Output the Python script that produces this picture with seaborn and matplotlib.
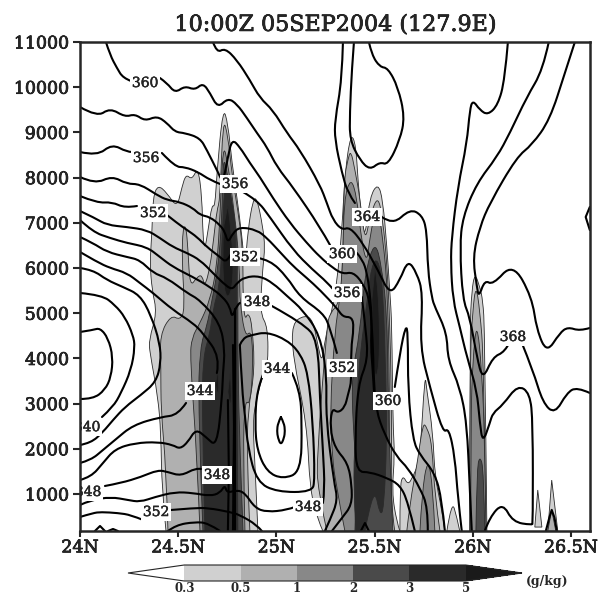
import matplotlib
matplotlib.use('Agg')
import matplotlib.pyplot as plt
import matplotlib.patheffects as pe
from matplotlib.cm import ScalarMappable
from matplotlib.colors import BoundaryNorm, ListedColormap
from matplotlib.patches import PathPatch
from matplotlib.path import Path
import seaborn as sns

# --- theta-e isolines (lat in deg N, height in m) ---
c360a_lat = [24.132, 24.153, 24.188, 24.219, 24.260]
c360a_z = [11000, 10713, 10425, 10204, 10137]
c360b_lat = [24.407, 24.443, 24.484, 24.534, 24.585, 24.626, 24.662, 24.702, 24.753, 24.799, 24.850, 24.901, 24.952, 25.003, 25.084, 25.222, 25.273]
c360b_z = [10204, 10093, 9872, 10027, 9938, 10093, 9872, 9540, 9761, 9628, 9319, 8987, 8677, 8235, 7793, 6908, 6510]
c360c_lat = [25.410, 25.440, 25.461, 25.476, 25.486, 25.481, 25.491, 25.502]
c360c_z = [6333, 6178, 5890, 5448, 4850, 4254, 3745, 2904]
c360d_lat = [25.603, 25.629, 25.659, 25.670, 25.670, 25.695, 25.731, 25.807, 25.843, 25.858]
c360d_z = [3369, 4121, 4740, 4563, 3302, 2196, 1864, 1466, 869, 183]
c362_lat = [24.677, 24.697, 24.738, 24.799, 24.865, 24.916, 24.982, 25.054, 25.120, 25.222, 25.257, 25.288, 25.334, 25.374, 25.440, 25.517, 25.578, 25.629, 25.670, 25.715, 25.746, 25.731, 25.782, 25.848, 25.878, 25.909, 25.924, 25.944]
c362_z = [11000, 10757, 10867, 10602, 10159, 9761, 9496, 8987, 8611, 7837, 7439, 7063, 6841, 6908, 6554, 5957, 5404, 5735, 6178, 5890, 5448, 4254, 3368, 2351, 2462, 1820, 935, 183]
c364a_lat = [25.339, 25.334, 25.298, 25.298, 25.334, 25.364, 25.400]
c364a_z = [11000, 10159, 9275, 8832, 8102, 7660, 7439]
c364b_lat = [25.537, 25.593, 25.680, 25.741, 25.766, 25.771, 25.792, 25.807, 25.868, 25.873, 25.934, 25.970, 25.985, 25.995]
c364b_z = [7129, 6952, 7306, 7173, 6841, 5957, 5337, 5138, 4563, 3966, 3368, 2572, 1090, 183]
top_lat = [25.395, 25.384, 25.374, 25.374, 25.425, 25.476, 25.527, 25.568, 25.629, 25.654, 25.619, 25.568, 25.527, 25.486, 25.471]
top_z = [11000, 10381, 9429, 8832, 8390, 8169, 8346, 8279, 8832, 9341, 10005, 10425, 10447, 10713, 11000]
r1_lat = [26.179, 26.163, 26.128, 26.077, 26.036, 26.000, 25.985, 25.970, 25.924, 25.893, 25.888, 25.899, 25.934, 25.970, 26.021, 26.036, 26.051, 26.087, 26.102, 26.153, 26.229, 26.291, 26.306, 26.306, 26.301, 26.204, 26.153, 26.087, 26.061]
r1_z = [11000, 10159, 9606, 9385, 9496, 9717, 9496, 8766, 7793, 6687, 6111, 5293, 4696, 4032, 3302, 2572, 2130, 2572, 2793, 2970, 3413, 3236, 2572, 360, 316, 382, 803, 493, 183]
r2a_lat = [26.387, 26.357, 26.275, 26.189, 26.123, 26.021, 25.949, 25.934, 25.949, 25.985, 26.021, 26.051, 26.102, 26.163, 26.189]
r2a_z = [11000, 10381, 9783, 8987, 8456, 7881, 7129, 6465, 5293, 4917, 4032, 3523, 4032, 4143, 4364]
r2b_lat = [26.250, 26.306, 26.357, 26.418, 26.479, 26.530, 26.596]
r2b_z = [4342, 3744, 3015, 2771, 3236, 3369, 3236]
r3_lat = [26.520, 26.469, 26.392, 26.301, 26.224, 26.087, 26.036, 26.000, 26.021, 26.031, 26.061, 26.102, 26.204, 26.301, 26.326, 26.377, 26.443, 26.484, 26.545, 26.596]
r3_z = [11000, 10314, 9275, 8722, 8456, 7439, 6908, 6244, 5581, 5359, 5735, 5625, 6111, 5359, 4629, 4121, 4563, 4696, 4607, 4674]
c358_lat = [24.000, 24.087, 24.153, 24.229, 24.280, 24.331, 24.392, 24.443, 24.484, 24.534, 24.611, 24.646, 24.702, 24.728, 24.753, 24.774, 24.814, 24.865, 24.916, 24.982, 25.069, 25.155, 25.222, 25.288, 25.339, 25.390, 25.440, 25.476, 25.491, 25.496, 25.507, 25.552, 25.613, 25.670, 25.731, 25.771, 25.771]
c358_z = [9562, 9341, 9540, 9341, 9407, 9252, 9363, 9208, 9009, 8987, 8876, 8611, 8124, 7881, 8456, 8854, 8677, 8323, 8014, 7549, 6996, 6554, 6244, 6001, 5868, 5912, 5669, 5293, 4408, 3523, 2860, 2307, 1820, 1577, 1134, 714, 183]
c356a_lat = [24.000, 24.087, 24.163, 24.239, 24.265]
c356a_z = [8567, 8478, 8744, 8567, 8567]
c356b_lat = [24.417, 24.484, 24.534, 24.601, 24.662, 24.713]
c356b_z = [8545, 8235, 8235, 8124, 7947, 7859]
c356c_lat = [24.830, 24.901, 24.967, 25.084, 25.186, 25.257, 25.288]
c356c_z = [7682, 7505, 7129, 6399, 5957, 5691, 5536]
c356d_lat = [25.435, 25.456, 25.466, 25.415, 25.400, 25.410, 25.476, 25.563, 25.629, 25.670, 25.705]
c356d_z = [5359, 4629, 3966, 3413, 2152, 1488, 1488, 1356, 1201, 825, 183]
c354_lat = [24.000, 24.076, 24.163, 24.239, 24.305, 24.392, 24.443, 24.509, 24.575, 24.611, 24.662, 24.713, 24.738, 24.753, 24.779, 24.814, 24.901, 24.952, 25.018, 25.084, 25.155, 25.222, 25.308, 25.339, 25.384, 25.395, 25.379, 25.384, 25.364, 25.349, 25.313, 25.283, 25.273, 25.298, 25.364, 25.384, 25.384, 25.334, 25.283]
c354_z = [8014, 7859, 8036, 7859, 7859, 7616, 7505, 7461, 7328, 7173, 7129, 6952, 6797, 6554, 6775, 6908, 6841, 6664, 6355, 6045, 5780, 5514, 5116, 4917, 4917, 4696, 4187, 3523, 3191, 2925, 2793, 2904, 2462, 2019, 1687, 1201, 758, 471, 183]
c352a_lat = [24.000, 24.087, 24.163, 24.229, 24.290]
c352a_z = [7593, 7439, 7461, 7328, 7372]
c352b_lat = [24.443, 24.494, 24.545, 24.596, 24.646, 24.713, 24.748, 24.774]
c352b_z = [7173, 6996, 6841, 6687, 6465, 6244, 6111, 6355]
c352c_lat = [24.906, 24.967, 25.054, 25.120, 25.237, 25.273, 25.308]
c352c_z = [6222, 6178, 5803, 5360, 5005, 4696, 4121]
c350_lat = [24.000, 24.076, 24.137, 24.239, 24.341, 24.407, 24.473, 24.545, 24.611, 24.677, 24.728, 24.774, 24.799, 24.840, 24.916, 24.982, 25.054, 25.135, 25.222, 25.257, 25.252, 25.293, 25.313, 25.273, 25.247]
c350_z = [7262, 7107, 6952, 6908, 6841, 6664, 6465, 6333, 6178, 5890, 5669, 5514, 5669, 5802, 5824, 5669, 5382, 5072, 4519, 3634, 2683, 1267, 869, 427, 183]
c348a_lat = [24.000, 24.066, 24.153, 24.239, 24.341, 24.407, 24.473, 24.575, 24.662, 24.728, 24.764, 24.774, 24.799, 24.814]
c348a_z = [7062, 6797, 6664, 6554, 6465, 6244, 6023, 5802, 5581, 5359, 5138, 4895, 5182, 5227]
c348b_lat = [24.977, 25.135, 25.211, 25.222, 25.237, 25.247, 25.237]
c348b_z = [5160, 4783, 4408, 3081, 1975, 1090, 803]
c346_lat = [24.000, 24.066, 24.137, 24.239, 24.305, 24.372, 24.443, 24.545, 24.611, 24.713, 24.738, 24.728, 24.723, 24.697, 24.641, 24.590, 24.550, 24.509, 24.473, 24.397, 24.280, 24.178, 24.117, 24.056, 24.000]
c346_z = [6687, 6554, 6355, 6244, 6178, 5890, 5780, 5448, 5293, 4784, 4187, 3700, 3125, 2041, 2262, 2440, 2152, 1997, 2086, 2152, 2130, 1997, 1687, 1378, 1311]
c344a_lat = [24.000, 24.087, 24.153, 24.239, 24.305, 24.372, 24.473, 24.575, 24.626, 24.713, 24.697]
c344a_z = [6355, 6134, 6001, 5890, 5669, 5448, 5072, 4784, 4563, 4032, 3678]
c344b_lat = [24.540, 24.499, 24.412, 24.270, 24.178, 24.117, 24.056, 24.000]
c344b_z = [3015, 2749, 2705, 2528, 2196, 1975, 1754, 1687]
c342_lat = [24.000, 24.066, 24.137, 24.219, 24.305, 24.361, 24.407, 24.412, 24.387, 24.310, 24.229, 24.168, 24.117, 24.056, 24.000]
c342_z = [6001, 5957, 5735, 5581, 5403, 4961, 4341, 3899, 3479, 3191, 2926, 2638, 2373, 2130, 2086]
c340_lat = [24.000, 24.112, 24.178, 24.229, 24.270, 24.280, 24.260, 24.209, 24.168, 24.112]
c340_z = [5448, 5403, 5182, 4917, 4519, 4253, 3744, 3236, 2926, 2705]
c338_lat = [24.000, 24.066, 24.102, 24.143, 24.168, 24.158, 24.127, 24.066, 24.000]
c338_z = [4585, 4629, 4674, 4452, 4032, 3590, 3302, 3103, 3103]
low348_lat = [24.127, 24.209, 24.310, 24.397, 24.448, 24.514, 24.590, 24.616]
low348_z = [1179, 1245, 1378, 1533, 1488, 1400, 1577, 1555]
low350_lat = [24.000, 24.056, 24.158, 24.244, 24.305, 24.382, 24.484, 24.575, 24.662, 24.713, 24.738, 24.748, 24.799, 24.840, 24.891, 24.952, 25.054, 25.094]
low350_z = [759, 869, 935, 869, 825, 935, 1046, 1024, 957, 1024, 1201, 1024, 1090, 1024, 692, 603, 648, 714]
low352a_lat = [24.000, 24.066, 24.107, 24.193, 24.260, 24.321]
low352a_z = [493, 581, 603, 581, 537, 427]
low352b_lat = [24.463, 24.585, 24.652, 24.764, 24.814, 24.901, 24.926]
low352b_z = [648, 692, 692, 603, 537, 316, 183]
low354_lat = [24.448, 24.489, 24.585, 24.652, 24.713]
low354_z = [183, 316, 382, 360, 183]
loop346_lat = [24.814, 24.825, 24.840, 24.855, 24.901, 25.003, 25.181, 25.196, 25.186, 25.161, 25.120, 25.054, 24.952, 24.875, 24.830, 24.814]
loop346_z = [4298, 3302, 2749, 2019, 1267, 1046, 1046, 1311, 2572, 3678, 4121, 4408, 4585, 4519, 4452, 4298]
loop344_lat = [25.079, 25.120, 25.130, 25.125, 25.033, 24.952, 24.901, 24.891, 24.901, 24.931]
loop344_z = [3678, 3302, 2572, 1488, 1333, 1488, 1975, 2572, 3302, 3634]
loop342_lat = [25.023, 25.039, 25.044, 25.039, 25.023, 25.008, 25.003, 25.008, 25.023]
loop342_z = [2705, 2572, 2395, 2240, 2085, 2240, 2395, 2572, 2705]

# short pieces, drawn straight
edge_lat = [26.596, 26.575, 26.596]
edge_z = [7350, 7129, 6841]
arc1_lat = [24.076, 24.102, 24.127]
arc1_z = [183, 294, 183]
arc2_lat = [24.143, 24.168, 24.193]
arc2_z = [183, 228, 183]
arc3_lat = [26.372, 26.390, 26.402, 26.416, 26.428]
arc3_z = [183, 480, 650, 480, 183]
arc4_lat = [25.430, 25.451, 25.471]
arc4_z = [183, 360, 183]
band1_lat = [24.779, 24.784, 24.779]
band1_z = [4298, 2500, 183]
band2_lat = [24.753, 24.758, 24.753]
band2_z = [3080, 1500, 183]
band3_lat = [24.789, 24.789]
band3_z = [5100, 183]

# --- cloud water regions, one outline per shading level ---
w03_lat = [24.906, 24.891, 24.881, 24.891, 24.931, 24.957, 24.957, 24.916, 24.931, 24.942, 24.931, 24.901, 24.881, 24.855, 24.840, 24.825, 24.799, 24.774, 24.753, 24.728, 24.697, 24.687, 24.672, 24.652, 24.636, 24.626, 24.621, 24.601, 24.570, 24.540, 24.519, 24.494, 24.443, 24.397, 24.372, 24.367, 24.356, 24.367, 24.392, 24.351, 24.356, 24.397, 24.412, 24.417, 24.438]
w03_z = [180, 1640, 2530, 2970, 3640, 3810, 4700, 5000, 6020, 6460, 6910, 7550, 7510, 6840, 5960, 6690, 7570, 8320, 9210, 9560, 8100, 7350, 7400, 6840, 6400, 6690, 7570, 8240, 7950, 8080, 7790, 7330, 7660, 7840, 7570, 6840, 6110, 5510, 5010, 4410, 4120, 3150, 2350, 1090, 180]
w05_lat = [24.865, 24.850, 24.855, 24.891, 24.875, 24.855, 24.840, 24.830, 24.830, 24.804, 24.774, 24.753, 24.728, 24.713, 24.697, 24.682, 24.662, 24.636, 24.621, 24.596, 24.560, 24.550, 24.540, 24.524, 24.519, 24.534, 24.509, 24.463, 24.407, 24.412, 24.412, 24.438, 24.448]
w05_z = [180, 1750, 2860, 3740, 4810, 5010, 4850, 5290, 6400, 7280, 8060, 8940, 9320, 7510, 7280, 6690, 6020, 5580, 5850, 5800, 5580, 6400, 6930, 6890, 6180, 5070, 4850, 4960, 4520, 3810, 2860, 1600, 180]
w1_lat = [24.840, 24.830, 24.840, 24.865, 24.881, 24.875, 24.840, 24.814, 24.814, 24.804, 24.779, 24.753, 24.728, 24.713, 24.697, 24.662, 24.611, 24.570, 24.560, 24.596, 24.611]
w1_z = [180, 1980, 3080, 2970, 3740, 4630, 4470, 5290, 5670, 6550, 7440, 8320, 8770, 7130, 6020, 5290, 4780, 4470, 4030, 1820, 180]
w2_lat = [24.830, 24.814, 24.804, 24.804, 24.799, 24.774, 24.748, 24.728, 24.723, 24.702, 24.672, 24.646, 24.611, 24.601, 24.626]
w2_z = [180, 1980, 3860, 5960, 6690, 7440, 8170, 8460, 7060, 5960, 5290, 4710, 4250, 2930, 180]
w3_lat = [24.804, 24.799, 24.799, 24.794, 24.779, 24.738, 24.723, 24.713, 24.677, 24.662, 24.626, 24.621, 24.636]
w3_z = [180, 3080, 5290, 6620, 7440, 8060, 6550, 5660, 5070, 4560, 4030, 2710, 180]
w5a_lat = [24.753, 24.779, 24.779, 24.738, 24.723, 24.733]
w5a_z = [7390, 6550, 5510, 5290, 6290, 6950]
w5b_lat = [24.700, 24.710, 24.700, 24.690]
w5b_z = [3745, 3410, 3150, 3410]
w5c_lat = [24.764, 24.774, 24.764, 24.753]
w5c_z = [3680, 3260, 2860, 3260]
m03_lat = [25.237, 25.211, 25.171, 25.155, 25.084, 25.079, 25.145, 25.186, 25.211, 25.232, 25.247, 25.283, 25.308, 25.334, 25.349, 25.379, 25.405, 25.415, 25.440, 25.456, 25.476, 25.517, 25.542, 25.563, 25.578, 25.588, 25.593, 25.603, 25.588, 25.613, 25.629]
m03_z = [180, 430, 1090, 2570, 4030, 4780, 4960, 4850, 4300, 3900, 4410, 5070, 5670, 6840, 8100, 8990, 8720, 7950, 6800, 6800, 7570, 7880, 7510, 6460, 5450, 4780, 2570, 1860, 1050, 380, 180]
m05_lat = [25.257, 25.211, 25.206, 25.257, 25.273, 25.323, 25.339, 25.344, 25.364, 25.379, 25.400, 25.425, 25.451, 25.476, 25.517, 25.542, 25.563, 25.578, 25.588, 25.583, 25.603]
m05_z = [180, 1090, 1820, 4700, 5010, 5230, 6110, 7950, 8400, 8610, 8170, 7570, 6550, 7130, 7620, 7060, 6110, 4780, 2570, 710, 180]
m1_lat = [25.349, 25.298, 25.283, 25.273, 25.298, 25.323, 25.339, 25.344, 25.379, 25.410, 25.435, 25.461, 25.476, 25.512, 25.542, 25.568, 25.578, 25.568, 25.588]
m1_z = [180, 1310, 1980, 2860, 4630, 5290, 6180, 7510, 8010, 7570, 6550, 6110, 6690, 7440, 6690, 5450, 2570, 710, 180]
m2_lat = [25.400, 25.410, 25.390, 25.384, 25.425, 25.451, 25.502, 25.537, 25.563, 25.568, 25.578, 25.593]
m2_z = [180, 1420, 2530, 3640, 4560, 5890, 6620, 6020, 4990, 3520, 1750, 180]
m3_lat = [25.405, 25.390, 25.405, 25.415, 25.435, 25.466, 25.486, 25.517, 25.542, 25.558, 25.563, 25.547, 25.527, 25.502, 25.466, 25.451]
m3_z = [180, 1310, 2420, 3520, 4410, 5400, 6070, 6220, 5630, 3520, 2200, 650, 540, 1090, 540, 180]
m5_lat = [25.502, 25.522, 25.527, 25.491, 25.486]
m5_z = [6020, 5510, 3740, 3520, 5290]
e03_lat = [25.629, 25.629, 25.644, 25.670, 25.695, 25.731, 25.756, 25.766, 25.797, 25.807, 25.843, 25.858]
e03_z = [180, 1160, 1420, 1200, 1380, 1750, 3680, 3300, 2350, 1380, 650, 180]
e05_lat = [25.664, 25.680, 25.720, 25.746, 25.766, 25.792, 25.807, 25.833]
e05_z = [180, 800, 1750, 2570, 2480, 2130, 940, 180]
e1_lat = [25.731, 25.741, 25.771, 25.797, 25.807]
e1_z = [180, 1020, 1820, 1160, 180]
b03_lat = [25.868, 25.893, 25.919, 25.934]
b03_z = [180, 870, 490, 180]
n03_lat = [25.985, 25.985, 25.995, 26.011, 26.036, 26.051, 26.061, 26.072]
n03_z = [180, 4630, 5510, 5890, 5580, 5290, 4630, 180]
n05_lat = [25.985, 25.985, 26.000, 26.016, 26.036, 26.056, 26.067]
n05_z = [180, 3970, 5070, 5630, 5070, 3970, 180]
n1_lat = [25.990, 25.990, 26.000, 26.021, 26.046, 26.061, 26.067]
n1_z = [180, 2640, 3970, 4850, 3740, 2200, 180]
n2_lat = [26.016, 26.021, 26.036, 26.056, 26.061]
n2_z = [180, 1530, 1860, 1530, 180]
s1_lat = [26.316, 26.331, 26.352]
s1_z = [270, 1090, 270]
s2_lat = [26.382, 26.402, 26.433]
s2_z = [180, 1310, 180]
s3_lat = [26.382, 26.402, 26.423]
s3_z = [180, 650, 180]

label_text = ['360', '360', '364', '368', '360', '356', '356', '356', '352', '352', '352', '348', '348', '348', '348', '352', '344', '344', '340']
label_lat = [24.331, 25.334, 25.461, 26.204, 25.568, 24.336, 24.789, 25.359, 24.372, 24.840, 25.334, 24.901, 25.161, 24.697, 24.041, 24.387, 24.611, 25.003, 24.036]
label_z = [10093, 6310, 7130, 4475, 3060, 8434, 7859, 5448, 7217, 6240, 3790, 5249, 714, 1422, 1046, 603, 3280, 3770, 2480]

x_ticks = [24, 24.5, 25, 25.5, 26, 26.5]
x_tick_labels = ['24N', '24.5N', '25N', '25.5N', '26N', '26.5N']
y_ticks = [1000, 2000, 3000, 4000, 5000, 6000, 7000, 8000, 9000, 10000, 11000]
bar_levels = [0.3, 0.5, 1, 2, 3, 5]
bar_labels = ['0.3', '0.5', '1', '2', '3', '5']

contours = [
    (c360a_lat, c360a_z), (c360b_lat, c360b_z), (c360c_lat, c360c_z), (c360d_lat, c360d_z),
    (c362_lat, c362_z), (c364a_lat, c364a_z), (c364b_lat, c364b_z), (top_lat, top_z),
    (r1_lat, r1_z), (r2a_lat, r2a_z), (r2b_lat, r2b_z), (r3_lat, r3_z),
    (c358_lat, c358_z), (c356a_lat, c356a_z), (c356b_lat, c356b_z), (c356c_lat, c356c_z),
    (c356d_lat, c356d_z), (c354_lat, c354_z), (c352a_lat, c352a_z), (c352b_lat, c352b_z),
    (c352c_lat, c352c_z), (c350_lat, c350_z), (c348a_lat, c348a_z), (c348b_lat, c348b_z),
    (c346_lat, c346_z), (c344a_lat, c344a_z), (c344b_lat, c344b_z), (c342_lat, c342_z),
    (c340_lat, c340_z), (c338_lat, c338_z), (low348_lat, low348_z), (low350_lat, low350_z),
    (low352a_lat, low352a_z), (low352b_lat, low352b_z), (low354_lat, low354_z),
    (loop346_lat, loop346_z), (loop344_lat, loop344_z), (loop342_lat, loop342_z),
]
short_lines = [
    (edge_lat, edge_z), (arc1_lat, arc1_z), (arc2_lat, arc2_z), (arc3_lat, arc3_z), (arc4_lat, arc4_z),
    (band1_lat, band1_z), (band2_lat, band2_z), (band3_lat, band3_z),
]


def rounded_path(lat, z, closed=False):
    # read points act as bezier controls, so the line bends smoothly at them
    pts = list(zip(lat, z))
    verts = [pts[0]]
    codes = [Path.MOVETO]
    for i in range(1, len(pts) - 1):
        end = pts[i + 1] if i == len(pts) - 2 else ((pts[i][0] + pts[i + 1][0]) / 2, (pts[i][1] + pts[i + 1][1]) / 2)
        verts += [pts[i], end]
        codes += [Path.CURVE3, Path.CURVE3]
    if closed:
        verts.append(pts[0])
        codes.append(Path.CLOSEPOLY)
    return Path(verts, codes)


sns.set_style('ticks')
plt.rcParams['font.family'] = ['DejaVu Serif']
shades = sns.color_palette(['#ffffff', '#d0d0d0', '#b0b0b0', '#888888', '#4a4a4a', '#2a2a2a', '#1a1a1a'])
heavy = [pe.withStroke(linewidth=0.5, foreground='black')]

fig = plt.figure(figsize=(6.06, 5.96), dpi=100)
ax = fig.add_axes([80 / 606, 65 / 596, 510 / 606, 489 / 596])

# cloud shading, lightest level first
clouds = [
    (w03_lat, w03_z, 1), (m03_lat, m03_z, 1), (e03_lat, e03_z, 1), (b03_lat, b03_z, 1),
    (n03_lat, n03_z, 1), (s1_lat, s1_z, 1), (s2_lat, s2_z, 1),
    (w05_lat, w05_z, 2), (m05_lat, m05_z, 2), (e05_lat, e05_z, 2), (n05_lat, n05_z, 2), (s3_lat, s3_z, 2),
    (w1_lat, w1_z, 3), (m1_lat, m1_z, 3), (e1_lat, e1_z, 3), (n1_lat, n1_z, 3),
    (w2_lat, w2_z, 4), (m2_lat, m2_z, 4), (n2_lat, n2_z, 4),
    (w3_lat, w3_z, 5), (m3_lat, m3_z, 5),
    (w5a_lat, w5a_z, 6), (w5b_lat, w5b_z, 6), (w5c_lat, w5c_z, 6), (m5_lat, m5_z, 6),
]
for lat, z, level in clouds:
    if len(lat) > 3:
        ax.add_patch(PathPatch(rounded_path(lat, z, closed=True), facecolor=shades[level], edgecolor='#2a2a2a',
                               linewidth=0.6, zorder=level))
    else:
        ax.fill(lat, z, facecolor=shades[level], edgecolor='#2a2a2a', linewidth=0.6, zorder=level)

for lat, z in contours:
    ax.add_patch(PathPatch(rounded_path(lat, z), fill=False, edgecolor='black', linewidth=1.5,
                           capstyle='round', joinstyle='round', zorder=10))
for lat, z in short_lines:
    sns.lineplot(x=lat, y=z, sort=False, estimator=None, color='black', linewidth=1.5, ax=ax, zorder=10)

for text, lat, z in zip(label_text, label_lat, label_z):
    ax.text(lat, z, text, fontsize=10, ha='center', va='center', zorder=12, clip_on=True,
            path_effects=[pe.withStroke(linewidth=0.3, foreground='black')],
            bbox=dict(facecolor='white', edgecolor='none', pad=1.5))

ax.set_xlim(24, 26.597)
ax.set_ylim(183, 11000)
ax.set_xticks(x_ticks)
ax.set_xticklabels(x_tick_labels, fontsize=12.5, path_effects=heavy)
ax.set_yticks(y_ticks)
ax.set_yticklabels([str(v) for v in y_ticks], fontsize=12.5, path_effects=heavy)
ax.tick_params(axis='y', length=5, width=1.5, pad=3)
ax.tick_params(axis='x', length=4, width=1.5, pad=2)
for side in ax.spines.values():
    side.set_linewidth(1.8)
    side.set_zorder(20)
ax.set_title('10:00Z 05SEP2004 (127.9E)', fontsize=16, pad=8, x=0.502, path_effects=heavy)

# colour key under the plot
cax = fig.add_axes([128 / 606, 15 / 596, 394 / 606, 16 / 596])
cmap = ListedColormap(shades[1:6])
cmap.set_under(shades[0])
cmap.set_over(shades[6])
norm = BoundaryNorm(bar_levels, cmap.N)
bar = fig.colorbar(ScalarMappable(norm=norm, cmap=cmap), cax=cax, orientation='horizontal',
                   extend='both', extendfrac=0.2, spacing='uniform', ticks=bar_levels)
bar.ax.set_xticklabels(bar_labels, fontsize=8.5, fontweight='bold')
bar.ax.tick_params(length=0, pad=1)
bar.outline.set_linewidth(0.8)
bar.dividers.set_linewidth(0.8)
fig.text(547 / 606, 1 - 582 / 596, '(g/kg)', fontsize=9, fontweight='bold', ha='center', va='center')

fig.savefig('out.png', dpi=100)
